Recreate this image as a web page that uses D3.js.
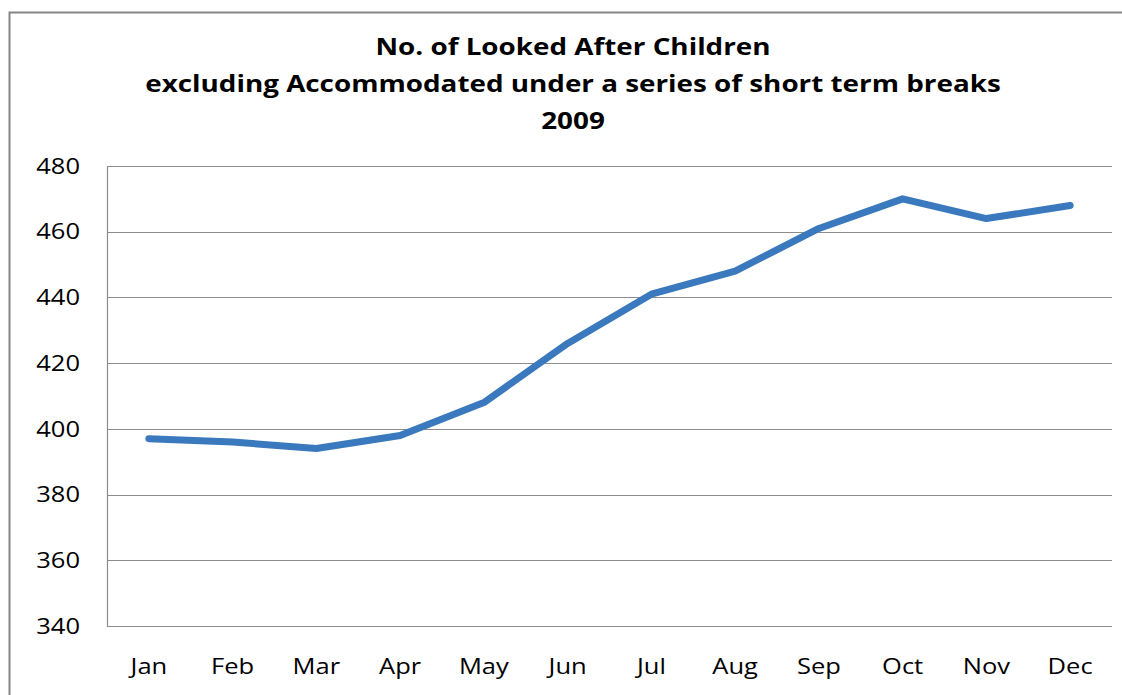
<!DOCTYPE html>
<html>
<head>
<meta charset="utf-8">
<script src="https://cdnjs.cloudflare.com/ajax/libs/d3/7.8.5/d3.min.js"></script>
<style>
  body { margin: 0; background: #fff; }
  text { font-family: "Open Sans", sans-serif; fill: #000; }
</style>
</head>
<body>
<script>
// data
const months = ["Jan", "Feb", "Mar", "Apr", "May", "Jun", "Jul", "Aug", "Sep", "Oct", "Nov", "Dec"]
const children = [397, 396, 394, 398, 408, 426, 441, 448, 461, 470, 464, 468]
const yTicks = [340, 360, 380, 400, 420, 440, 460, 480]
const titleLines = [
    "No. of Looked After Children",
    "excluding Accommodated under a series of short term breaks",
    "2009"
]

const width = 1122
const height = 695
const plot = { left: 107, right: 1112, top: 166, bottom: 626 }
// the original text looks a bit stretched sideways
const stretch = 1.16

const svg = d3.select("body")
    .append("svg")
    .attr("width", width)
    .attr("height", height)

// outer chart border (runs off right / bottom edge)
svg.append("rect")
    .attr("x", 9.5)
    .attr("y", 12.5)
    .attr("width", width + 20)
    .attr("height", height + 20)
    .attr("fill", "none")
    .attr("stroke", "#868686")
    .attr("stroke-width", 2)

const x = d3.scaleBand()
    .domain(months)
    .range([plot.left, plot.right])

const y = d3.scaleLinear()
    .domain([340, 480])
    .range([plot.bottom, plot.top])

// gridlines
svg.append("g")
    .selectAll("line")
    .data(yTicks)
    .enter().append("line")
    .attr("x1", plot.left)
    .attr("x2", plot.right)
    .attr("y1", d => Math.round(y(d)) + 0.5)
    .attr("y2", d => Math.round(y(d)) + 0.5)
    .attr("stroke", "#8c8c8c")
    .attr("stroke-width", 1.2)

// y axis line
svg.append("line")
    .attr("x1", plot.left + 0.5)
    .attr("x2", plot.left + 0.5)
    .attr("y1", plot.top)
    .attr("y2", plot.bottom + 0.5)
    .attr("stroke", "#8c8c8c")
    .attr("stroke-width", 1.2)

// y labels
svg.append("g")
    .selectAll("text")
    .data(yTicks)
    .enter().append("text")
    .attr("transform", d => `translate(80, ${y(d)}) scale(${stretch}, 1)`)
    .attr("dy", "0.35em")
    .attr("text-anchor", "end")
    .style("font-size", "22px")
    .text(d => d)

// x labels
svg.append("g")
    .selectAll("text")
    .data(months)
    .enter().append("text")
    .attr("transform", d => `translate(${x(d) + x.bandwidth() / 2}, 666) scale(${stretch}, 1)`)
    .attr("dy", "0.35em")
    .attr("text-anchor", "middle")
    .style("font-size", "22px")
    .text(d => d)

// title
svg.append("g")
    .selectAll("text")
    .data(titleLines)
    .enter().append("text")
    .attr("transform", (d, i) => `translate(573, ${47 + i * 37}) scale(1.21, 1)`)
    .attr("dy", "0.35em")
    .attr("text-anchor", "middle")
    .style("font-size", "23px")
    .style("font-weight", "bold")
    .text(d => d)

// the line
const line = d3.line()
    .x((d, i) => x(months[i]) + x.bandwidth() / 2)
    .y(d => y(d))

svg.append("path")
    .datum(children)
    .attr("d", line)
    .attr("fill", "none")
    .attr("stroke", "#3a79bd")
    .attr("stroke-width", 7)
    .attr("stroke-linecap", "round")
    .attr("stroke-linejoin", "round")
</script>
</body>
</html>
